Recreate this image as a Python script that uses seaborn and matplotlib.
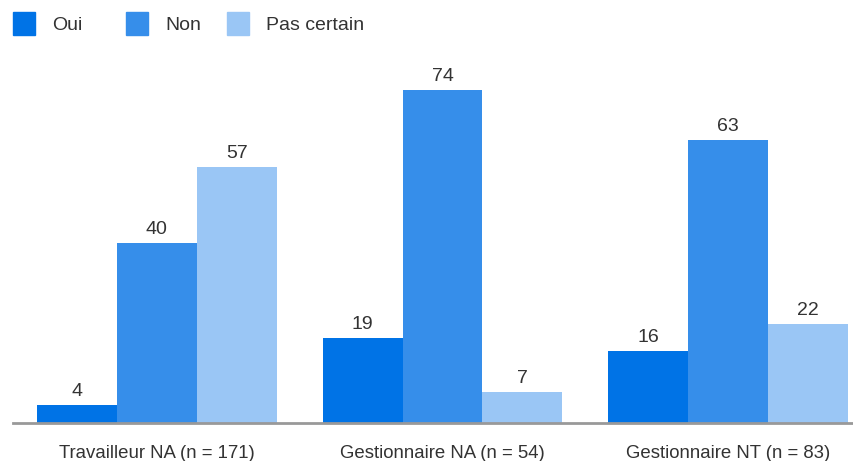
import matplotlib
matplotlib.use("Agg")
import matplotlib.pyplot as plt
from matplotlib.patches import Rectangle
import pandas as pd
import seaborn as sns

groups = ["Travailleur NA (n = 171)", "Gestionnaire NA (n = 54)", "Gestionnaire NT (n = 83)"]
answers = ["Oui", "Non", "Pas certain"]
oui = [4, 19, 16]
non = [40, 74, 63]
pas_certain = [57, 7, 22]
colors = ["#0073E6", "#368EEA", "#9AC6F5"]

rows = []
for g, a, b, c in zip(groups, oui, non, pas_certain):
    rows += [(g, "Oui", a), (g, "Non", b), (g, "Pas certain", c)]
df = pd.DataFrame(rows, columns=["groupe", "reponse", "valeur"])

sns.set_theme(style="white")
plt.rcParams["font.family"] = ["Liberation Sans", "DejaVu Sans"]

W, H = 854, 461
fig = plt.figure(figsize=(W / 100, H / 100), dpi=100)
ax = fig.add_axes([13 / W, (H - 423) / H, (W - 13) / W, (423 - 60) / H])

sns.barplot(data=df, x="groupe", y="valeur", hue="reponse", hue_order=answers,
            palette=colors, width=0.84, saturation=1, linewidth=0,
            ax=ax, legend=False)

for cont in ax.containers:
    ax.bar_label(cont, fmt="%g", padding=3.5, fontsize=14, color="#333333")

ax.set_xlim(-0.504, 2.441)
ax.set_ylim(0, 80.67)
ax.set_xlabel("")
ax.set_ylabel("")
ax.set_yticks([])
ax.tick_params(axis="x", length=0, pad=16, labelsize=13.4, labelcolor="#333333")
for s in ["top", "right", "left"]:
    ax.spines[s].set_visible(False)
ax.spines["bottom"].set_color("#999999")
ax.spines["bottom"].set_linewidth(2)

# legend drawn in figure pixel coordinates
legend_x = [13, 126, 227]
for x, lab, col in zip(legend_x, answers, colors):
    fig.patches.append(Rectangle((x / W, (H - 35) / H), 22 / W, 23 / H,
                                 transform=fig.transFigure, color=col))
    fig.text((x + 39) / W, (H - 25.5) / H, lab, fontsize=14, color="#333333",
             va="center", ha="left")

fig.savefig("out.png", dpi=100)
